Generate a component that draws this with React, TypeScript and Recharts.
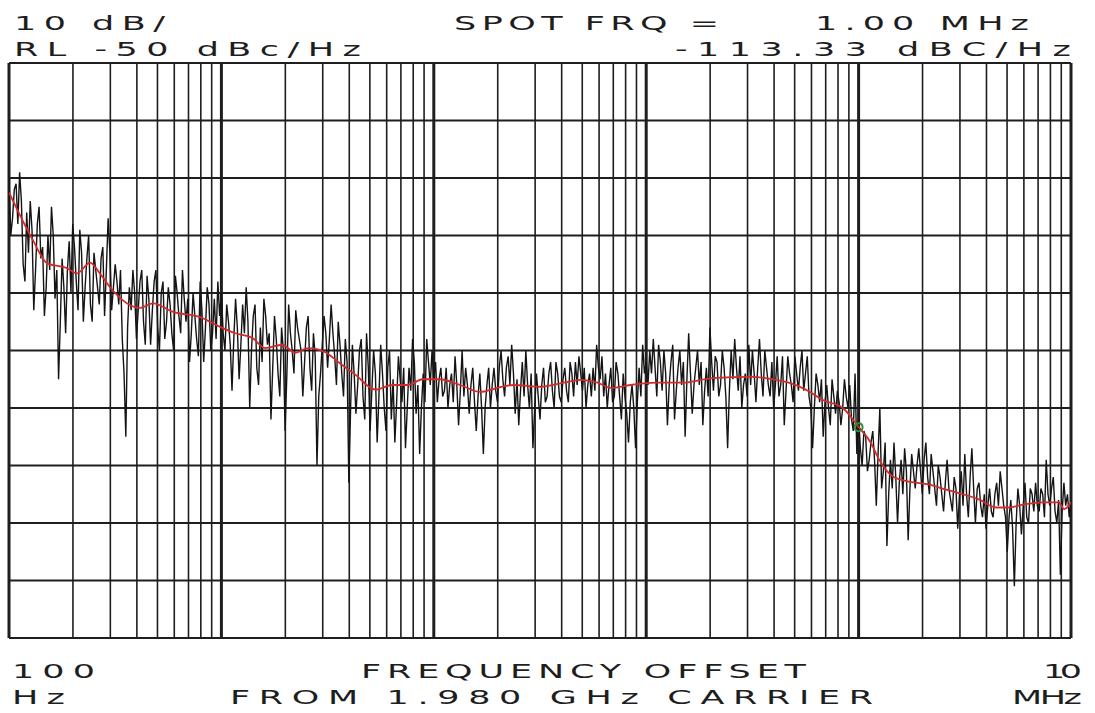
import React from 'react';
import { LineChart, Line, XAxis, YAxis, ReferenceLine, ReferenceDot } from 'recharts';

// plot grid
const decades = [100, 1000, 10000, 100000, 1000000, 10000000];
const minorSteps = [2, 3, 4, 5, 6, 7, 8, 9];
const levelTicks = [-50, -60, -70, -80, -90, -100, -110, -120, -130, -140, -150];

// raw phase noise sweep, dBc/Hz: 60 log-spaced readings per decade,
// each followed by the reading half a step later (the "mid" arrays)
const noiseD1 = [
  -70, -77, -71, -69, -85, -76, -74, -93, -78, -84, -94, -80, -75, -91, -105, -84, -97, -81, -78, -88,
  -79, -95, -84, -92, -83, -89, -84, -94, -77, -93, -85, -92, -98, -115, -89, -86, -98, -88, -95, -87,
  -99, -88, -96, -90, -98, -89, -97, -87, -94, -86, -95, -102, -90, -98, -88, -102, -89, -100, -91, -88,
];
const midD1 = [
  -80, -72, -78, -74, -88, -83, -79, -86, -75, -82, -89, -86, -80, -86, -95, -89, -86, -90, -82, -93,
  -83, -89, -80, -95, -86, -92, -82, -86, -83, -89, -88, -86, -104, -96, -93, -90, -93, -86, -99, -91,
  -93, -86, -100, -88, -95, -92, -100, -90, -97, -91, -91, -97, -94, -101, -93, -96, -92, -97, -98, -94,
];
const noiseD2 = [
  -90, -100, -95, -107, -91, -105, -92, -89, -110, -94, -103, -96, -91, -99, -112, -94, -104, -96, -114, -92,
  -100, -93, -98, -108, -96, -103, -97, -120, -104, -94, -103, -92, -101, -95, -104, -98, -123, -99, -111, -100,
  -108, -97, -114, -100, -116, -99, -110, -103, -112, -116, -101, -109, -117, -103, -98, -111, -118, -104, -98, -106,
];
const midD2 = [
  -97, -92, -99, -98, -96, -99, -97, -95, -100, -92, -106, -102, -94, -97, -103, -98, -108, -100, -104, -97,
  -104, -96, -100, -102, -94, -107, -101, -108, -99, -97, -98, -97, -106, -99, -108, -102, -110, -104, -106, -98,
  -112, -103, -107, -104, -108, -104, -114, -100, -105, -109, -105, -103, -110, -107, -102, -106, -110, -109, -102, -100,
];
const noiseD3 = [
  -105, -109, -103, -107, -110, -104, -101, -113, -100, -103, -111, -103, -114, -104, -118, -106, -110, -103, -109, -100,
  -108, -101, -99, -111, -113, -102, -100, -110, -117, -104, -112, -103, -108, -102, -110, -104, -109, -103, -109, -104,
  -102, -101, -107, -110, -104, -103, -99, -105, -108, -110, -103, -108, -104, -112, -108, -116, -106, -117, -103, -99,
];
const midD3 = [
  -102, -105, -108, -103, -106, -109, -106, -107, -108, -106, -106, -109, -108, -110, -110, -103, -106, -107, -103, -105,
  -103, -106, -104, -105, -107, -108, -106, -104, -110, -108, -106, -109, -104, -107, -102, -108, -105, -107, -102, -108,
  -106, -104, -103, -106, -108, -107, -103, -101, -104, -106, -109, -102, -108, -104, -111, -109, -110, -109, -108, -104,
];
const noiseD4 = [
  -102, -100, -98, -108, -102, -100, -113, -102, -112, -103, -106, -115, -97, -111, -103, -106, -113, -103, -96, -107,
  -102, -106, -103, -117, -100, -98, -107, -110, -104, -99, -100, -109, -98, -108, -103, -108, -110, -101, -106, -113,
  -101, -106, -101, -107, -100, -104, -108, -117, -104, -109, -115, -106, -113, -108, -107, -113, -105, -110, -112, -104,
];
const midD4 = [
  -106, -104, -103, -99, -107, -104, -106, -99, -107, -100, -102, -105, -104, -106, -100, -102, -107, -108, -102, -101,
  -108, -100, -108, -107, -105, -103, -101, -106, -108, -106, -104, -103, -104, -100, -106, -102, -106, -108, -101, -107,
  -104, -109, -104, -103, -107, -101, -110, -110, -106, -105, -109, -110, -105, -111, -109, -110, -108, -106, -114, -118,
];
const noiseD5 = [
  -112, -120, -115, -119, -114, -127, -110, -121, -134, -119, -116, -130, -119, -117, -133, -118, -124, -117, -125, -116,
  -125, -121, -127, -122, -128, -119, -126, -122, -131, -121, -118, -129, -117, -130, -123, -129, -131, -124, -129, -123,
  -121, -127, -135, -126, -141, -124, -132, -123, -130, -125, -123, -128, -125, -119, -127, -122, -130, -139, -123, -125,
];
const midD5 = [
  -117, -114, -121, -116, -119, -118, -124, -116, -125, -124, -122, -123, -125, -121, -124, -121, -120, -121, -119, -122,
  -118, -124, -120, -125, -123, -124, -128, -124, -125, -127, -125, -122, -124, -124, -127, -125, -127, -128, -125, -127,
  -124, -129, -129, -131, -130, -127, -127, -129, -124, -128, -127, -124, -129, -125, -124, -128, -126, -128, -127, -129,
];
const noiseEnd = [-126];

// averaged (red) trace
const avgFreq = [
  100, 130, 151, 188, 209, 241, 268, 299, 414, 477, 593, 794, 987,
  1162, 1397, 1608, 1935, 2227, 2563, 3084, 3550, 4271, 5309, 6383, 7592, 8836,
  10700, 13300, 16600, 19900, 23700, 31800, 40800, 49100, 59000, 67900, 84400,
  111000, 148000, 206000, 317000, 394000, 469000, 564000, 678000, 843000, 1000000,
  1140000, 1250000, 1450000, 1730000, 2140000, 2580000, 3100000, 3680000, 4440000,
  5110000, 5940000, 7380000, 8770000, 9270000, 10000000,
];
const avgLevel = [
  -72.5, -80.9, -84.8, -85.7, -86.6, -84.7, -86.6, -89, -92.6, -91.8, -93.3, -94.2, -95.9,
  -97, -97.8, -99.6, -99, -100.4, -99.6, -100.3, -102, -104.2, -106.8, -106, -106, -105,
  -105, -106, -107.2, -106.5, -106, -106.3, -105.6, -105.1, -105.6, -106.5, -106,
  -105.6, -105.6, -104.8, -104.6, -105, -105.6, -106.8, -108.6, -110, -113.3,
  -116, -119, -121.9, -122.8, -123.3, -124.2, -125, -125.9, -127.3,
  -127.3, -126.8, -126.4, -126.4, -127.6, -126.4,
];

const spotFreq = 1000000;
const spotLevel = -113.33;

const sweepPairs: [number[], number[]][] = [
  [noiseD1, midD1],
  [noiseD2, midD2],
  [noiseD3, midD3],
  [noiseD4, midD4],
  [noiseD5, midD5],
];
const noiseLevels = [
  ...sweepPairs.flatMap(([main, mid]) => main.flatMap((v, i) => [v, mid[i]])),
  ...noiseEnd,
];
const sweepData = noiseLevels.map((v, i) => ({
  f: 100 * Math.pow(10, (5 * i) / (noiseLevels.length - 1)),
  v,
}));
const avgData = avgFreq.map((f, i) => ({ f, v: avgLevel[i] }));
const minorTicks = decades.slice(0, -1).flatMap((d) => minorSteps.map((m) => d * m));

const ink = '#1e1e1e';
const font = '"DejaVu Sans", sans-serif';
const stretch = 1.75;

function Caption({ x1, x2, y, children }: { x1: number; x2: number; y: number; children: string }) {
  return (
    <text
      transform={`translate(${x1} ${y}) scale(${stretch} 1)`}
      textLength={(x2 - x1) / stretch}
      lengthAdjust="spacing"
      fontFamily={font}
      fontSize={20}
      fill={ink}
    >
      {children}
    </text>
  );
}

export default function App() {
  return (
    <div style={{ position: 'absolute', left: 0, top: 0, width: 1095, height: 713, background: '#fff' }}>
      <LineChart width={1095} height={713} margin={{ top: 63, right: 24, bottom: 75, left: 9 }}>
        <XAxis type="number" dataKey="f" scale="log" domain={[100, 10000000]} allowDataOverflow hide />
        <YAxis type="number" domain={[-150, -50]} allowDataOverflow hide />
        {levelTicks.map((t) => (
          <ReferenceLine key={`h${t}`} y={t} stroke={ink} strokeWidth={2} />
        ))}
        {minorTicks.map((t) => (
          <ReferenceLine key={`m${t}`} x={t} stroke={ink} strokeWidth={1.6} />
        ))}
        {decades.map((t) => (
          <ReferenceLine key={`d${t}`} x={t} stroke={ink} strokeWidth={3} />
        ))}
        <Line data={sweepData} dataKey="v" type="linear" dot={false} stroke="#141414" strokeWidth={1.4} isAnimationActive={false} />
        <Line data={avgData} dataKey="v" type="monotone" dot={false} stroke="#d52a2a" strokeWidth={1.8} isAnimationActive={false} />
        <ReferenceDot x={spotFreq} y={spotLevel} r={4} fill="none" stroke="#2f8a3c" strokeWidth={2} />
      </LineChart>
      <svg width={1095} height={713} style={{ position: 'absolute', left: 0, top: 0, pointerEvents: 'none' }}>
        <Caption x1={14} x2={165} y={30}>10 dB/</Caption>
        <Caption x1={454} x2={719} y={30}>SPOT FRQ =</Caption>
        <Caption x1={815} x2={1029} y={30}>1.00 MHz</Caption>
        <Caption x1={14} x2={361} y={56}>RL -50 dBc/Hz</Caption>
        <Caption x1={675} x2={1071} y={56}>-113.33 dBC/Hz</Caption>
        <Caption x1={12} x2={95} y={678}>100</Caption>
        <Caption x1={361} x2={806} y={678}>FREQUENCY OFFSET</Caption>
        <Caption x1={1043} x2={1082} y={678}>10</Caption>
        <Caption x1={12} x2={65} y={704}>Hz</Caption>
        <Caption x1={230} x2={873} y={704}>FROM 1.980 GHz CARRIER</Caption>
        <Caption x1={1012} x2={1082} y={704}>MHz</Caption>
      </svg>
    </div>
  );
}
